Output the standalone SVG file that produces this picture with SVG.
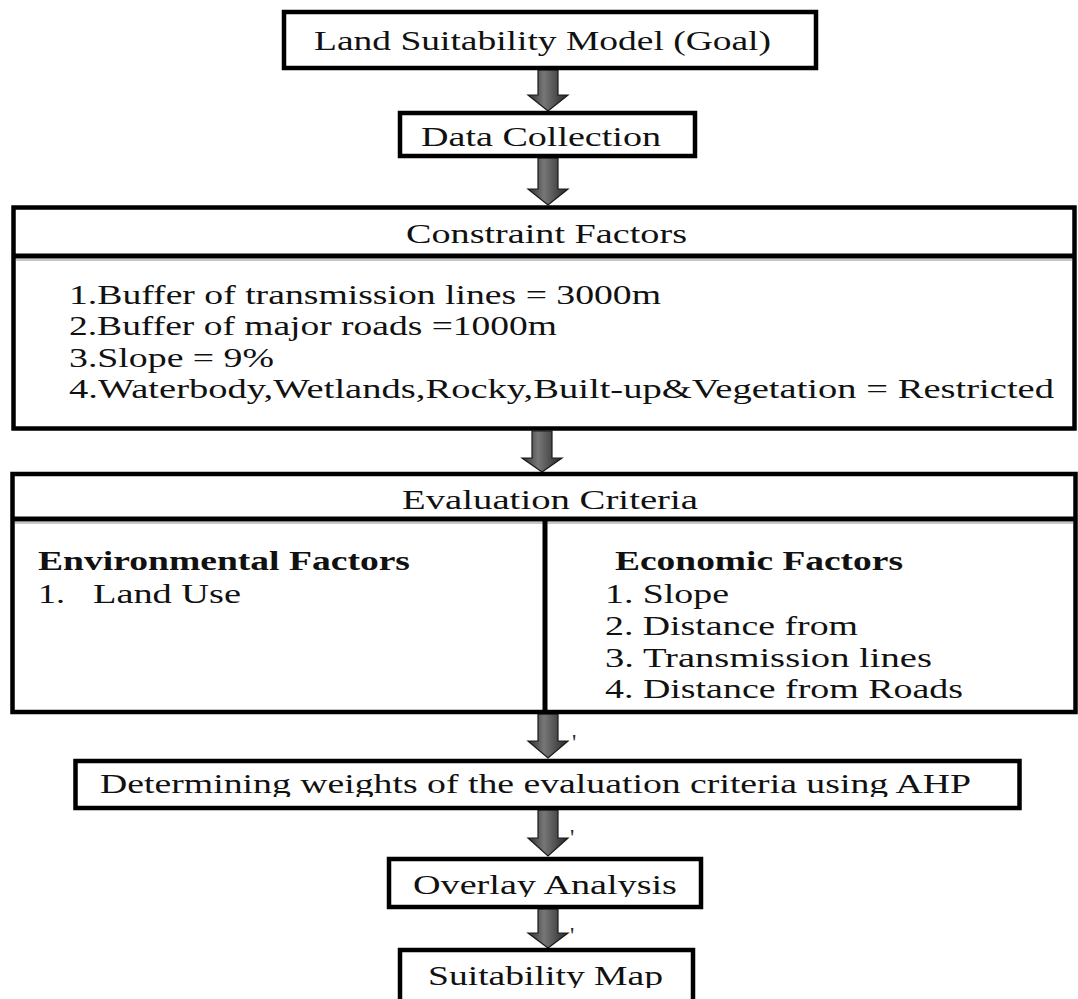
<svg xmlns="http://www.w3.org/2000/svg" width="1078" height="999" viewBox="0 0 1078 999">
<defs>
<style>
.box{fill:#fff;stroke:#000;stroke-width:4.5}
.div{stroke:#000;stroke-width:5}
.sh{stroke:#c8c8c8;stroke-width:2}
.t{font-family:"Liberation Serif","Times New Roman",serif;font-size:27px;fill:#111}
.b{font-weight:bold}
.arrow{fill:url(#ag);stroke:#1a1a1a;stroke-width:1.2}
.tick{font-family:"Liberation Serif",serif;font-size:24px;fill:#2a2a2a}
</style>
<linearGradient id="ag" x1="0" y1="0" x2="1" y2="0">
<stop offset="0" stop-color="#2e2e2e"/>
<stop offset="0.4" stop-color="#777"/>
<stop offset="1" stop-color="#262626"/>
</linearGradient>
<clipPath id="cAHP"><rect x="75" y="761" width="944" height="36"/></clipPath>
<clipPath id="cOv"><rect x="389" y="859" width="312" height="38"/></clipPath>
<clipPath id="cSu"><rect x="400" y="950" width="293" height="38"/></clipPath>
</defs>
<rect width="1078" height="999" fill="#fff"/>

<g id="connectors">
<path class="arrow" d="M538,70 V95 H528 L548,111 L568,95 H558 V70 Z"/>
<path class="arrow" d="M538,158 V189 H528 L548,205 L568,189 H558 V158 Z"/>
<path class="arrow" d="M532,431 V458 H522 L542,472 L562,458 H552 V431 Z"/>
<path class="arrow" d="M538,714 V741 H528 L548,758 L568,741 H558 V714 Z"/>
<path class="arrow" d="M538,810 V838 H528 L548,856 L568,838 H558 V810 Z"/>
<path class="arrow" d="M538,909 V933 H528 L548,948 L568,933 H558 V909 Z"/>
<text class="tick" x="572" y="750">'</text>
<text class="tick" x="570" y="845">'</text>
<text class="tick" x="570" y="943">'</text>
</g>

<g id="goal">
<rect class="box" x="284" y="12" width="532" height="56"/>
<text class="t" x="314" y="50" textLength="457" lengthAdjust="spacingAndGlyphs">Land Suitability Model (Goal)</text>
</g>

<g id="data-collection">
<rect class="box" x="400" y="113" width="295" height="43"/>
<text class="t" x="421" y="146" textLength="240" lengthAdjust="spacingAndGlyphs">Data Collection</text>
</g>

<g id="constraint-factors">
<rect class="box" x="13.5" y="207.5" width="1061" height="221"/>
<line class="sh" x1="16" y1="260" x2="1072" y2="260"/>
<line class="div" x1="13.5" y1="256" x2="1074.5" y2="256"/>
<text class="t" x="406" y="243" textLength="281" lengthAdjust="spacingAndGlyphs">Constraint Factors</text>
<text class="t" x="69" y="304" textLength="592" lengthAdjust="spacingAndGlyphs">1.Buffer of transmission lines = 3000m</text>
<text class="t" x="69" y="335" textLength="488" lengthAdjust="spacingAndGlyphs">2.Buffer of major roads =1000m</text>
<text class="t" x="69" y="367" textLength="205" lengthAdjust="spacingAndGlyphs">3.Slope = 9%</text>
<text class="t" x="69" y="398" textLength="985" lengthAdjust="spacingAndGlyphs">4.Waterbody,Wetlands,Rocky,Built-up&amp;Vegetation = Restricted</text>
</g>

<g id="evaluation-criteria">
<rect class="box" x="12.5" y="474" width="1063" height="238"/>
<line class="sh" x1="15" y1="523" x2="1073" y2="523"/>
<line class="div" x1="12.5" y1="519" x2="1075.5" y2="519"/>
<line class="div" x1="545" y1="519" x2="545" y2="712" stroke-width="4.5"/>
<text class="t" x="402" y="509" textLength="296" lengthAdjust="spacingAndGlyphs">Evaluation Criteria</text>
<text class="t b" x="38" y="570" textLength="372" lengthAdjust="spacingAndGlyphs">Environmental  Factors</text>
<text class="t" x="38" y="603" textLength="27" lengthAdjust="spacingAndGlyphs">1.</text>
<text class="t" x="93" y="603" textLength="148" lengthAdjust="spacingAndGlyphs">Land Use</text>
<text class="t b" x="615" y="570" textLength="288" lengthAdjust="spacingAndGlyphs">Economic  Factors</text>
<text class="t" x="605" y="603" textLength="124" lengthAdjust="spacingAndGlyphs">1. Slope</text>
<text class="t" x="605" y="635" textLength="253" lengthAdjust="spacingAndGlyphs">2. Distance from</text>
<text class="t" x="605" y="667" textLength="327" lengthAdjust="spacingAndGlyphs">3. Transmission lines</text>
<text class="t" x="605" y="698" textLength="358" lengthAdjust="spacingAndGlyphs">4. Distance from Roads</text>
</g>

<g id="ahp-weights">
<rect class="box" x="75.5" y="761" width="944" height="47"/>
<text class="t" x="100" y="793" textLength="871" lengthAdjust="spacingAndGlyphs" clip-path="url(#cAHP)">Determining weights of the evaluation criteria using AHP</text>
</g>

<g id="overlay-analysis">
<rect class="box" x="389" y="859" width="312" height="48"/>
<text class="t" x="413" y="894" textLength="264" lengthAdjust="spacingAndGlyphs" clip-path="url(#cOv)">Overlay Analysis</text>
</g>

<g id="suitability-map">
<rect class="box" x="400" y="950" width="293" height="60"/>
<text class="t" x="428" y="985" textLength="235" lengthAdjust="spacingAndGlyphs" clip-path="url(#cSu)">Suitability Map</text>
</g>
</svg>
